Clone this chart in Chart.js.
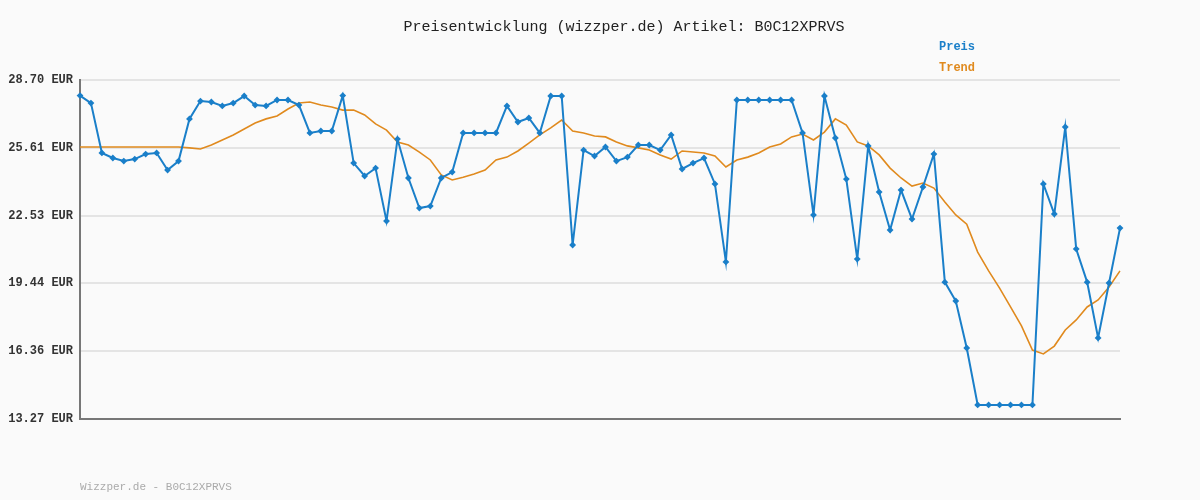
<!DOCTYPE html>
<html><head><meta charset="utf-8">
<script src="https://cdn.jsdelivr.net/npm/chart.js@4"></script>
<style>
html,body{margin:0;padding:0;background:#fafafa;}
#wrap{position:relative;width:1200px;height:500px;}
.t{position:absolute;font-family:"Liberation Mono",monospace;white-space:nowrap;}
</style></head><body>
<div id="wrap">
<canvas id="c" width="1200" height="500"></canvas>
<div class="t" style="left:0;width:1248px;text-align:center;top:19px;font-size:15px;color:#222;">Preisentwicklung (wizzper.de) Artikel: B0C12XPRVS</div>
<div class="t" style="left:939px;top:40px;font-size:12px;font-weight:bold;color:#1a7fc9;">Preis</div>
<div class="t" style="left:939px;top:61px;font-size:12px;font-weight:bold;color:#e08a1e;">Trend</div>
<div class="t" style="left:80px;top:481px;font-size:11px;color:#aaa;">Wizzper.de - B0C12XPRVS</div>
</div>
<script>
const yTicks = [13.27, 16.36, 19.44, 22.53, 25.61, 28.70];
const preis = [27.99,27.65,25.38,25.15,25.01,25.10,25.33,25.38,24.60,25.01,
26.93,27.74,27.70,27.52,27.65,27.97,27.56,27.52,27.79,27.79,
27.56,26.29,26.38,26.38,27.99,24.92,24.33,24.69,22.28,26.01,
24.24,22.87,22.96,24.24,24.51,26.29,26.29,26.29,26.29,27.52,
26.79,26.97,26.29,27.97,27.97,21.19,25.51,25.24,25.65,25.01,
25.19,25.74,25.74,25.51,26.20,24.65,24.92,25.15,23.97,20.42,
27.79,27.79,27.79,27.79,27.79,27.79,26.29,22.56,27.97,26.06,
24.19,20.55,25.70,23.60,21.87,23.69,22.37,23.83,25.33,19.50,
18.64,16.50,13.91,13.91,13.91,13.91,13.91,13.91,23.97,22.60,
26.56,21.01,19.50,16.96,19.46,21.96];
const trend = [25.65,25.65,25.65,25.65,25.65,25.65,25.65,25.65,25.65,25.65,
25.61,25.56,25.74,25.97,26.20,26.47,26.74,26.93,27.06,27.38,
27.65,27.70,27.56,27.47,27.33,27.33,27.11,26.70,26.42,25.88,
25.74,25.42,25.06,24.38,24.15,24.27,24.42,24.60,25.06,
25.19,25.47,25.83,26.20,26.52,26.88,26.38,26.29,26.15,26.11,
25.88,25.70,25.61,25.51,25.29,25.10,25.47,25.42,25.38,25.24,
24.74,25.06,25.19,25.38,25.65,25.79,26.11,26.24,25.97,26.33,
26.93,26.65,25.88,25.70,25.29,24.69,24.24,23.87,24.01,23.78,
23.15,22.56,22.14,20.87,20.01,19.23,18.37,17.51,16.41,16.23,
16.59,17.32,17.78,18.37,18.69,19.28,20.01];
const labels = preis.map((_, i) => String(i + 1));
new Chart(document.getElementById('c'), {
  type: 'line',
  data: { labels, datasets: [
    { label: 'Preis', data: preis, borderColor: '#1a7fc9', backgroundColor: '#1a7fc9', borderWidth: 2,
      pointStyle: 'rectRot', pointRadius: 2, pointHoverRadius: 2, tension: 0, order: 1 },
    { label: 'Trend', data: trend, borderColor: '#e08a1e', borderWidth: 1.6, pointRadius: 0, tension: 0, order: 2 }
  ]},
  options: {
    responsive: false, animation: false, devicePixelRatio: 1,
    layout: { padding: { left: 0, right: 80, top: 80, bottom: 0 } },
    plugins: { legend: { display: false }, tooltip: { enabled: false }, title: { display: false } },
    scales: {
      x: { offset: false, grid: { display: false, drawTicks: false }, border: { color: '#777', width: 2 },
           ticks: { display: false }, afterFit: s => { s.height = 81; } },
      y: { min: 13.27, max: 28.70, afterBuildTicks: s => { s.ticks = yTicks.map(v => ({ value: v })); },
           afterFit: s => { s.width = 80; },
           grid: { color: '#e4e4e4', lineWidth: 2, drawTicks: false }, border: { color: '#777', width: 2 },
           ticks: { padding: 7, color: '#333', font: { family: 'Liberation Mono', size: 12, weight: 'bold' },
                    callback: v => v.toFixed(2) + ' EUR' } }
    }
  }
});
</script></body></html>
